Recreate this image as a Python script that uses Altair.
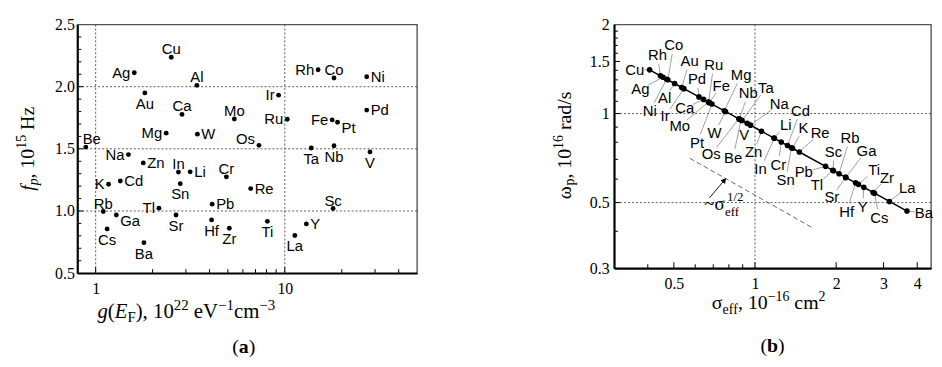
import altair as alt
import pandas as pd
import numpy as np

# ---------------- Panel (a) data ----------------
elem_a = ["Cu", "Ag", "Al", "Au", "Ca", "Mo", "Mg", "W", "Be", "Na",
          "Rh", "Co", "Ni", "Ir", "Pd", "Ru", "Fe", "Pt", "Os", "Ta", "Nb", "V",
          "Zn", "In", "Li", "Cr", "K", "Cd", "Sn", "Rb", "Tl", "Pb", "Ga", "Sr",
          "Hf", "Zr", "Cs", "Ba", "Re", "Sc", "Ti", "Y", "La"]
g_EF = [2.51, 1.60, 3.43, 1.82, 2.86, 5.41, 2.36, 3.45, 0.887, 1.49,
        15.0, 18.2, 27.1, 9.27, 27.1, 10.3, 17.8, 19.0, 7.30, 13.8, 18.2, 28.2,
        1.785, 2.74, 3.16, 4.91, 1.17, 1.35, 2.80, 1.097, 2.16, 4.13, 1.286, 2.66,
        4.10, 5.09, 1.15, 1.80, 6.60, 18.0, 8.09, 13.0, 11.3]
f_p = [2.237, 2.112, 2.011, 1.950, 1.777, 1.740, 1.626, 1.618, 1.514, 1.454,
       2.136, 2.070, 2.080, 1.932, 1.812, 1.738, 1.733, 1.714, 1.528, 1.507, 1.525, 1.475,
       1.387, 1.313, 1.315, 1.275, 1.215, 1.241, 1.220, 0.996, 1.023, 1.055, 0.968, 0.968,
       0.928, 0.861, 0.856, 0.745, 1.180, 1.020, 0.917, 0.896, 0.803]

# ---------------- Panel (b) data ----------------
elem_b = ["Cu", "Rh", "Ag", "Ni", "Co", "Al", "Au", "Ir", "Pd", "Ca", "Mo", "Ru", "Fe", "Pt",
          "Mg", "W", "Os", "Nb", "Be", "Ta", "V", "Na", "Zn", "Li", "In", "Cr", "Cd", "Sn",
          "K", "Re", "Pb", "Tl", "Sc", "Rb", "Ga", "Sr", "Hf", "Ti", "Y", "Zr", "Cs", "La", "Ba"]
sigma_eff = [0.4064, 0.4457, 0.4559, 0.4700, 0.4746, 0.5029, 0.5348, 0.5448, 0.6194, 0.6440,
             0.6717, 0.6732, 0.6771, 0.6922, 0.7692, 0.7768, 0.8710, 0.8744, 0.8872, 0.8955,
             0.9347, 0.9619, 1.0571, 1.1760, 1.1796, 1.2510, 1.3204, 1.3663, 1.3776, 1.4605,
             1.8271, 1.9432, 1.9546, 2.0500, 2.1703, 2.1703, 2.3614, 2.4184, 2.5331, 2.7432,
             2.7754, 3.1538, 3.6641]
omega_p = [1.4056, 1.3421, 1.3270, 1.3069, 1.3006, 1.2636, 1.2252, 1.2139, 1.1385, 1.1165,
           1.0933, 1.0920, 1.0889, 1.0769, 1.0216, 1.0166, 0.9601, 0.9582, 0.9513, 0.9469,
           0.9268, 0.9136, 0.8715, 0.8262, 0.8250, 0.8011, 0.7797, 0.7665, 0.7634, 0.7414,
           0.6629, 0.6428, 0.6409, 0.6258, 0.6082, 0.6082, 0.5831, 0.5762, 0.5630, 0.5410,
           0.5378, 0.5045, 0.4681]
guide_sigma = [0.573, 1.631]
guide_omega = [0.706, 0.4115]
arrow_sigma = [0.678, 0.770]
arrow_omega = [0.5185, 0.5955]

# tick / grid values
a_xgrid = [1, 10]
a_ygrid = [1.0, 1.5, 2.0]
a_xmajor = [1, 10]
a_xminor = [2, 3, 4, 5, 6, 7, 8, 9, 20, 30, 40]
a_ymajor = [1.0, 1.5, 2.0]
a_yminor = [0.6, 0.7, 0.8, 0.9, 1.1, 1.2, 1.3, 1.4, 1.6, 1.7, 1.8, 1.9, 2.1, 2.2, 2.3, 2.4]
b_xgrid = [1]
b_ygrid = [0.5, 1.0]
b_xmajor = [0.5, 1, 2, 3, 4]
b_xminor = [0.4, 0.6, 0.7, 0.8, 0.9]
b_ymajor = [0.5, 1.0, 1.5]
b_yminor = [0.4, 0.6, 0.7, 0.8, 0.9, 1.1, 1.2, 1.3, 1.4, 1.6, 1.7, 1.8, 1.9]

# ---------------- layout (label placement, not data) ----------------
place_a = ["T", "L", "T", "B", "T", "T", "L", "R", "TR", "L",
           "L", "T", "R", "L", "R", "L", "L", "RB", "LT", "B", "B", "B",
           "R", "T", "R", "T", "L", "R", "B", "T", "L", "R", "RB", "B",
           "B", "B", "B", "B", "R", "T", "B", "R", "B"]
# pixel offsets of each (b) label centre from its dot
lab_dx_b = [-15, -3, -23, -17, 6, -10, 8, -19, -2, -19, -29, 5, 12, -15,
            17, -11, -28, 9, -8, 24, -3, 29, -8, 12, -14, -3, 13, -6,
            11, 21, -22, -16, 0, 11, 21, -14, -9, 16, -1, 14, 5, 18, 17]
lab_dy_b = [0, -21, 12, 32, -35, 15, -27, 28, -18, 9, 24, -38, -17, 39,
            -36, 22, 36, -26, 38, -33, 12, -21, 21, -13, 31, 23, -35, 33,
            -20, -19, 6, 15, -19, -36, -27, 20, 29, -14, 20, -15, 25, -14, 2]

FONT_LAB = "Liberation Sans"
FONT_AX = "Liberation Serif"
WA, HA = 343, 251
WB, HB = 320, 246
XA_DOM, YA_DOM = [0.8, 50], [0.5, 2.5]
XB_DOM, YB_DOM = [0.3, 4.5], [0.3, 2.0]

sxa = alt.Scale(type="log", domain=XA_DOM, nice=False)
sya = alt.Scale(type="linear", domain=YA_DOM, nice=False, zero=False)
sxb = alt.Scale(type="log", domain=XB_DOM, nice=False)
syb = alt.Scale(type="log", domain=YB_DOM, nice=False)
ax_xa = alt.Axis(values=[1, 10], format="d", title=None, labelPadding=8, labelOverlap=False)
ax_ya = alt.Axis(values=[0.5, 1.0, 1.5, 2.0, 2.5], format=".1f", title=None, labelPadding=3, labelOverlap=False)
ax_xb = alt.Axis(values=[0.5, 1, 2, 3, 4], format="~g", title=None, labelPadding=8, labelOverlap=False)
ax_yb = alt.Axis(values=[0.3, 0.5, 1, 1.5, 2], format="~g", title=None, labelPadding=5, labelOverlap=False)

# ------------- text helpers for composite titles -------------
REG = {" ": 250, "(": 333, ")": 333, ",": 250, ".": 250, "/": 278, "~": 541, "\u2212": 564,
       "E": 611, "F": 556, "H": 722, "V": 722, "a": 444, "b": 500, "c": 444, "d": 500,
       "e": 444, "f": 333, "g": 500, "m": 778, "p": 500, "r": 333, "s": 389, "z": 444,
       "\u03c3": 550, "\u03c9": 690}
for d in "0123456789":
    REG[d] = 500
ITA = dict(REG, **{"F": 611, "f": 278})
BLD = dict(REG, **{"a": 500, "b": 556})


def tw(s, st, sz):
    tab = {"italic": ITA, "bold": BLD}.get(st, REG)
    return sum(tab.get(c, 500) for c in s) * sz / 1000.0


def title_rows(pieces, cx, cy, vertical=False):
    total = sum(tw(t, st, sz) for t, st, sz, sh in pieces)
    pos = -total / 2
    rows = []
    for t, st, sz, sh in pieces:
        lead = len(t) - len(t.lstrip(" "))
        trail = len(t) - len(t.rstrip(" "))
        core = t.strip(" ")
        pos += lead * tw(" ", st, sz)
        if vertical:
            rows.append(dict(t=core, st=st, fs=sz, px=cx + sh, py=cy - pos))
        else:
            rows.append(dict(t=core, st=st, fs=sz, px=cx + pos, py=cy + sh))
        pos += tw(core, st, sz) + trail * tw(" ", st, sz)
    return rows


def text_layers(rows, angle=0):
    df = pd.DataFrame(rows)
    out = []
    for st in df["st"].unique():
        sub = df[df["st"] == st]
        kw = {}
        if st == "italic":
            kw["fontStyle"] = "italic"
        if st == "bold":
            kw["fontWeight"] = "bold"
        out.append(alt.Chart(sub).mark_text(align="left", baseline="alphabetic", font=FONT_AX,
                                            color="black", angle=angle, **kw).encode(
            x=alt.X("px:Q", scale=None, axis=None),
            y=alt.Y("py:Q", scale=None, axis=None),
            text="t:N",
            size=alt.Size("fs:Q", scale=None, legend=None)))
    return out


def vrules(vals, scale, axis, dash=None):
    kw = dict(color="#333", strokeWidth=0.8)
    if dash:
        kw["strokeDash"] = dash
    return alt.Chart(pd.DataFrame({"v": vals})).mark_rule(**kw).encode(x=alt.X("v:Q", scale=scale, axis=axis))


def hrules(vals, scale, axis, dash=None):
    kw = dict(color="#333", strokeWidth=0.8)
    if dash:
        kw["strokeDash"] = dash
    return alt.Chart(pd.DataFrame({"v": vals})).mark_rule(**kw).encode(y=alt.Y("v:Q", scale=scale, axis=axis))


def left_ticks(vals, scale, axis, ln):
    return alt.Chart(pd.DataFrame({"v": vals})).mark_rule(color="black", strokeWidth=1).encode(
        y=alt.Y("v:Q", scale=scale, axis=axis), x=alt.value(0), x2=alt.value(ln))


def bottom_ticks(vals, scale, axis, ln, h):
    return alt.Chart(pd.DataFrame({"v": vals})).mark_rule(color="black", strokeWidth=1).encode(
        x=alt.X("v:Q", scale=scale, axis=axis), y=alt.value(h), y2=alt.value(h - ln))


# ---------------- Panel (a) ----------------
dfa = pd.DataFrame({"elem": elem_a, "g": g_EF, "f": f_p, "place": place_a})
pa = [vrules(a_xgrid, sxa, ax_xa, [2, 2]), hrules(a_ygrid, sya, ax_ya, [2, 2]),
      left_ticks(a_ymajor, sya, ax_ya, 6), left_ticks(a_yminor, sya, ax_ya, 4),
      bottom_ticks(a_xmajor, sxa, ax_xa, 6, HA), bottom_ticks(a_xminor, sxa, ax_xa, 4, HA)]
pa.append(alt.Chart(dfa).mark_circle(size=24, color="black", opacity=1).encode(
    x=alt.X("g:Q", scale=sxa, axis=ax_xa), y=alt.Y("f:Q", scale=sya, axis=ax_ya)))
place_style = {"T": ("center", "alphabetic", 0, -3), "B": ("center", "alphabetic", 0, 16),
               "TR": ("center", "alphabetic", 6, -3),
               "L": ("right", "middle", -4, 0), "R": ("left", "middle", 4, 0),
               "RB": ("left", "middle", 4, 6), "LT": ("right", "middle", -4, -6)}
for code, (al, bl, dx, dy) in place_style.items():
    sub = dfa[dfa["place"] == code]
    pa.append(alt.Chart(sub).mark_text(align=al, baseline=bl, dx=dx, dy=dy, font=FONT_LAB,
                                       fontSize=15, color="black").encode(
        x=alt.X("g:Q", scale=sxa, axis=ax_xa), y=alt.Y("f:Q", scale=sya, axis=ax_ya), text="elem:N"))
pa += text_layers(title_rows([("g", "italic", 21, 0), ("(", "reg", 21, 0), ("E", "italic", 21, 0),
                              ("F", "reg", 15, 4), ("), 10", "reg", 21, 0), ("22", "reg", 15, -8),
                              (" eV", "reg", 21, 0), ("\u22121", "reg", 15, -8), ("cm", "reg", 21, 0),
                              ("\u22123", "reg", 15, -8)], 110, 296))
pa += text_layers(title_rows([("f", "italic", 20, 0), ("p", "italic", 14, 4), (", 10", "reg", 20, 0),
                              ("15", "reg", 14, -8), (" Hz", "reg", 20, 0)], -44, 125.5, vertical=True), angle=270)
pa += text_layers(title_rows([("(", "reg", 20, 0), ("a", "bold", 20, 0), (")", "reg", 20, 0)], 168, 332))
panel_a = alt.layer(*pa).properties(width=WA, height=HA)

# ---------------- Panel (b) ----------------
kx = WB / np.log10(XB_DOM[1] / XB_DOM[0])
ky = HB / np.log10(YB_DOM[1] / YB_DOM[0])
dfb = pd.DataFrame({"elem": elem_b, "s": sigma_eff, "w": omega_p,
                    "dx": lab_dx_b, "dy": lab_dy_b})
dfb["lx"] = dfb["s"] * 10 ** (dfb["dx"] / kx)
dfb["ly"] = dfb["w"] * 10 ** (-dfb["dy"] / ky)
r = np.hypot(dfb["dx"], dfb["dy"])
shrink = np.clip(1 - 9 / r.replace(0, 1), 0, 1)
dfb["ex"] = dfb["s"] * 10 ** (dfb["dx"] * shrink / kx)
dfb["ey"] = dfb["w"] * 10 ** (-dfb["dy"] * shrink / ky)
lead = dfb[r > 14]

pb = [vrules(b_xgrid, sxb, ax_xb, [2, 2]), hrules(b_ygrid, syb, ax_yb, [2, 2]),
      left_ticks(b_ymajor, syb, ax_yb, 6), left_ticks(b_yminor, syb, ax_yb, 4),
      bottom_ticks(b_xmajor, sxb, ax_xb, 6, HB), bottom_ticks(b_xminor, sxb, ax_xb, 4, HB)]
pb.append(alt.Chart(pd.DataFrame({"s": guide_sigma, "w": guide_omega})).mark_line(
    color="#555", strokeWidth=0.9, strokeDash=[5, 3]).encode(
    x=alt.X("s:Q", scale=sxb, axis=ax_xb), y=alt.Y("w:Q", scale=syb, axis=ax_yb)))
pb.append(alt.Chart(pd.DataFrame({"s": arrow_sigma, "w": arrow_omega})).mark_line(
    color="black", strokeWidth=0.9).encode(
    x=alt.X("s:Q", scale=sxb, axis=ax_xb), y=alt.Y("w:Q", scale=syb, axis=ax_yb)))
pb.append(alt.Chart(pd.DataFrame({"s": arrow_sigma[1:], "w": arrow_omega[1:]})).mark_point(
    shape="triangle-up", filled=True, size=35, angle=40, color="black", opacity=1).encode(
    x=alt.X("s:Q", scale=sxb, axis=ax_xb), y=alt.Y("w:Q", scale=syb, axis=ax_yb)))
pb.append(alt.Chart(lead).mark_rule(color="#777", strokeWidth=0.7).encode(
    x=alt.X("s:Q", scale=sxb, axis=ax_xb), y=alt.Y("w:Q", scale=syb, axis=ax_yb),
    x2="ex:Q", y2="ey:Q"))
pb.append(alt.Chart(dfb).mark_line(color="black", strokeWidth=1.5).encode(
    x=alt.X("s:Q", scale=sxb, axis=ax_xb), y=alt.Y("w:Q", scale=syb, axis=ax_yb), order="s:Q"))
pb.append(alt.Chart(dfb).mark_circle(size=32, color="black", opacity=1).encode(
    x=alt.X("s:Q", scale=sxb, axis=ax_xb), y=alt.Y("w:Q", scale=syb, axis=ax_yb)))
pb.append(alt.Chart(dfb).mark_text(align="center", baseline="middle", font=FONT_LAB,
                                   fontSize=15, color="black").encode(
    x=alt.X("lx:Q", scale=sxb, axis=ax_xb), y=alt.Y("ly:Q", scale=syb, axis=ax_yb), text="elem:N"))
# ~sigma_eff^1/2 annotation
ann = [dict(t="~\u03c3", st="reg", fs=19, px=91, py=187),
       dict(t="eff", st="reg", fs=13, px=112, py=193),
       dict(t="1/2", st="reg", fs=13, px=114, py=178)]
pb += text_layers(ann)
pb += text_layers(title_rows([("\u03c3", "reg", 20, 0), ("eff", "reg", 14, 5), (", 10", "reg", 20, 0),
                              ("\u221216", "reg", 14, -8), (" cm", "reg", 20, 0), ("2", "reg", 14, -8)],
                             156, 287))
pb += text_layers(title_rows([("\u03c9", "reg", 20, 0), ("p", "reg", 14, 4), (", 10", "reg", 20, 0),
                              ("16", "reg", 14, -8), (" rad/s", "reg", 20, 0)], -44, 122, vertical=True), angle=270)
pb += text_layers(title_rows([("(", "reg", 20, 0), ("b", "bold", 20, 0), (")", "reg", 20, 0)], 160, 331))
panel_b = alt.layer(*pb).properties(width=WB, height=HB)

chart = alt.hconcat(panel_a, panel_b, spacing=133).properties(
    padding={"left": 6, "top": 6, "right": 0, "bottom": 0}, background="white"
).configure_view(stroke="#555", strokeWidth=1.4).configure_axis(
    domainColor="black", domainWidth=2, labelFont=FONT_AX, labelFontSize=16,
    labelColor="black", ticks=False, grid=False)

chart.save("out.html", embed_options={"renderer": "svg", "actions": False})
